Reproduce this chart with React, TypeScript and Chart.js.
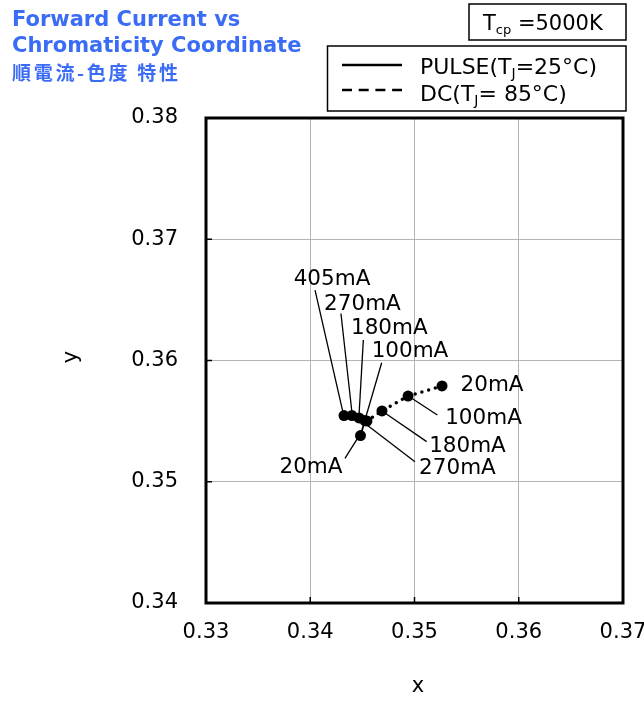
import React, { useEffect, useRef } from "react";
import { Chart, registerables } from "chart.js";

Chart.register(...registerables);

// ---- data ----
const pulseCurrents = ["20mA", "100mA", "180mA", "270mA", "405mA"];
const pulseX = [0.34482, 0.34525, 0.34468, 0.344, 0.34324];
const pulseY = [0.35381, 0.35505, 0.35526, 0.35546, 0.35546];

const dcCurrents = ["20mA", "100mA", "180mA", "270mA"];
const dcX = [0.35264, 0.34938, 0.34688, 0.34544];
const dcY = [0.3579, 0.35707, 0.35584, 0.35501];

const xTicks = [0.33, 0.34, 0.35, 0.36, 0.37];
const yTicks = [0.34, 0.35, 0.36, 0.37, 0.38];

const titleLines = ["Forward Current vs", "Chromaticity Coordinate"];
const titleJa = "順電流-色度 特性";
const xTitle = "x";
const yTitle = "y";

// ---- label placement (pixel offsets from each point) ----
type Place = { tx: number; ty: number; lx?: number; ly?: number; ex?: number; ey?: number };
const pulsePlace: Place[] = [
  { tx: -49.5, ty: 32, lx: -15.5, ly: 22.8, ex: 0, ey: -2 },
  { tx: 45, ty: -69.5, lx: 16.7, ly: -57.8, ex: 1, ey: -4 },
  { tx: 30.3, ty: -89.7, lx: 4.3, ly: -78, ex: 0, ey: -3 },
  { tx: 10.5, ty: -111.5, lx: -11, ly: -102, ex: 0, ey: -3 },
  { tx: -12, ty: -136, lx: -29, ly: -125.5, ex: -1, ey: -3 },
];
const dcPlace: Place[] = [
  { tx: 50, ty: -1 },
  { tx: 75.5, ty: 22, lx: 29.3, ly: 19, ex: 3.7, ey: 2.3 },
  { tx: 85.5, ty: 35.5, lx: 44.7, ly: 30.7, ex: 3, ey: 2 },
  { tx: 90.5, ty: 47.5, lx: 48, ly: 40.7, ex: 0, ey: 4 },
];

const FONT = "'DejaVu Sans', Verdana, sans-serif";
const BLUE = "#3b6cf5";

function drawSubText(
  ctx: CanvasRenderingContext2D,
  parts: { t: string; sub?: boolean }[],
  x: number,
  y: number,
  size: number
) {
  let cx = x;
  for (const p of parts) {
    ctx.font = `${p.sub ? Math.round(size * 0.62) : size}px ${FONT}`;
    ctx.fillText(p.t, cx, p.sub ? y + size * 0.18 : y);
    cx += ctx.measureText(p.t).width;
  }
}

const decorPlugin = {
  id: "decor",
  afterDatasetsDraw(chart: any) {
    const ctx: CanvasRenderingContext2D = chart.ctx;
    const xs = chart.scales.x;
    const ys = chart.scales.y;
    const { left, right, top, bottom } = chart.chartArea;
    ctx.save();
    // inner ticks
    ctx.strokeStyle = "#000";
    ctx.lineWidth = 1.5;
    ctx.beginPath();
    for (const v of xTicks.slice(1, -1)) {
      const px = xs.getPixelForValue(v);
      ctx.moveTo(px, bottom);
      ctx.lineTo(px, bottom - 6);
    }
    for (const v of yTicks.slice(1, -1)) {
      const py = ys.getPixelForValue(v);
      ctx.moveTo(left, py);
      ctx.lineTo(left + 6, py);
    }
    ctx.stroke();
    // frame
    ctx.lineWidth = 3;
    ctx.strokeRect(left, top, right - left, bottom - top);

    // annotations
    ctx.fillStyle = "#000";
    ctx.textAlign = "center";
    ctx.textBaseline = "middle";
    ctx.font = `21.5px ${FONT}`;
    const drawSet = (xsArr: number[], ysArr: number[], labels: string[], place: Place[]) => {
      labels.forEach((lab, i) => {
        const px = xs.getPixelForValue(xsArr[i]);
        const py = ys.getPixelForValue(ysArr[i]);
        const p = place[i];
        if (p.lx !== undefined) {
          ctx.lineWidth = 1.3;
          ctx.beginPath();
          ctx.moveTo(px + p.lx, py + (p.ly as number));
          ctx.lineTo(px + (p.ex || 0), py + (p.ey || 0));
          ctx.stroke();
        }
        ctx.fillText(lab, px + p.tx, py + p.ty);
      });
    };
    drawSet(pulseX, pulseY, pulseCurrents, pulsePlace);
    drawSet(dcX, dcY, dcCurrents, dcPlace);
    ctx.restore();
  },
  afterDraw(chart: any) {
    const ctx: CanvasRenderingContext2D = chart.ctx;
    ctx.save();
    // title
    ctx.fillStyle = BLUE;
    ctx.textAlign = "left";
    ctx.textBaseline = "alphabetic";
    ctx.font = `bold 21px ${FONT}`;
    ctx.fillText(titleLines[0], 12, 26);
    ctx.fillText(titleLines[1], 12, 52);
    ctx.font = `bold 19px 'Noto Sans CJK JP', sans-serif`;
    (ctx as any).letterSpacing = "2.7px";
    ctx.fillText(titleJa, 12, 80);
    (ctx as any).letterSpacing = "0px";

    // Tcp box
    ctx.strokeStyle = "#000";
    ctx.lineWidth = 1.5;
    ctx.strokeRect(469, 4, 157, 36);
    ctx.fillStyle = "#000";
    drawSubText(ctx, [{ t: "T" }, { t: "cp", sub: true }, { t: " =5000K" }], 483, 30, 21);

    // legend box
    ctx.strokeRect(327.5, 46, 298.5, 65);
    ctx.lineWidth = 2.5;
    ctx.beginPath();
    ctx.moveTo(342, 65);
    ctx.lineTo(402, 65);
    ctx.stroke();
    ctx.setLineDash([10, 6.7]);
    ctx.beginPath();
    ctx.moveTo(342, 90);
    ctx.lineTo(402, 90);
    ctx.stroke();
    ctx.setLineDash([]);
    drawSubText(ctx, [{ t: "PULSE(T" }, { t: "J", sub: true }, { t: "=25°C)" }], 420, 74, 22);
    drawSubText(ctx, [{ t: "DC(T" }, { t: "J", sub: true }, { t: "= 85°C)" }], 420, 101, 22);

    // axis titles
    ctx.font = `21px ${FONT}`;
    ctx.textAlign = "center";
    ctx.textBaseline = "middle";
    ctx.fillText(xTitle, 418, 687);
    ctx.translate(72, 357);
    ctx.rotate(-Math.PI / 2);
    ctx.fillText(yTitle, 0, 0);
    ctx.restore();
  },
};

export default function App() {
  const ref = useRef<HTMLCanvasElement | null>(null);
  useEffect(() => {
    if (!ref.current) return;
    const chart = new Chart(ref.current, {
      type: "scatter",
      data: {
        datasets: [
          {
            label: "PULSE(TJ=25°C)",
            data: pulseX.map((x, i) => ({ x, y: pulseY[i] })),
            showLine: true,
            borderColor: "#000",
            backgroundColor: "#000",
            borderWidth: 1.8,
            pointRadius: 5.5,
            pointBorderWidth: 0,
            tension: 0,
          },
          {
            label: "DC(TJ= 85°C)",
            data: dcX.map((x, i) => ({ x, y: dcY[i] })),
            showLine: true,
            borderColor: "#000",
            backgroundColor: "#000",
            borderWidth: 3.5,
            borderDash: [0, 7],
            borderCapStyle: "round",
            pointRadius: 5.5,
            pointBorderWidth: 0,
            tension: 0,
          },
        ],
      },
      options: {
        animation: false,
        responsive: true,
        maintainAspectRatio: false,
        layout: { padding: { left: 0, top: 118, right: 21, bottom: 0 } },
        plugins: { legend: { display: false }, tooltip: { enabled: false } },
        scales: {
          x: {
            type: "linear",
            min: 0.33,
            max: 0.37,
            afterBuildTicks: (s: any) => {
              s.ticks = xTicks.map((v) => ({ value: v }));
            },
            afterFit: (s: any) => {
              s.height = 99;
              s.paddingRight = 0;
              s.paddingLeft = 0;
            },
            ticks: {
              font: { family: FONT, size: 21 },
              color: "#000",
              padding: 17,
              maxRotation: 0,
              callback: (v: any) => Number(v).toFixed(2),
            },
            grid: { color: "#b4b4b4", lineWidth: 1, drawTicks: false },
            border: { display: false },
          },
          y: {
            type: "linear",
            min: 0.34,
            max: 0.38,
            afterBuildTicks: (s: any) => {
              s.ticks = yTicks.map((v) => ({ value: v }));
            },
            afterFit: (s: any) => {
              s.width = 206;
              s.paddingTop = 0;
              s.paddingBottom = 0;
            },
            ticks: {
              font: { family: FONT, size: 21 },
              color: "#000",
              padding: 28,
              callback: (v: any) => Number(v).toFixed(2),
            },
            grid: { color: "#b4b4b4", lineWidth: 1, drawTicks: false },
            border: { display: false },
          },
        },
      },
      plugins: [decorPlugin],
    } as any);
    return () => chart.destroy();
  }, []);
  return (
    <div style={{ position: "absolute", left: 0, top: 0, width: 644, height: 702, background: "#fff" }}>
      <canvas ref={ref} />
    </div>
  );
}
